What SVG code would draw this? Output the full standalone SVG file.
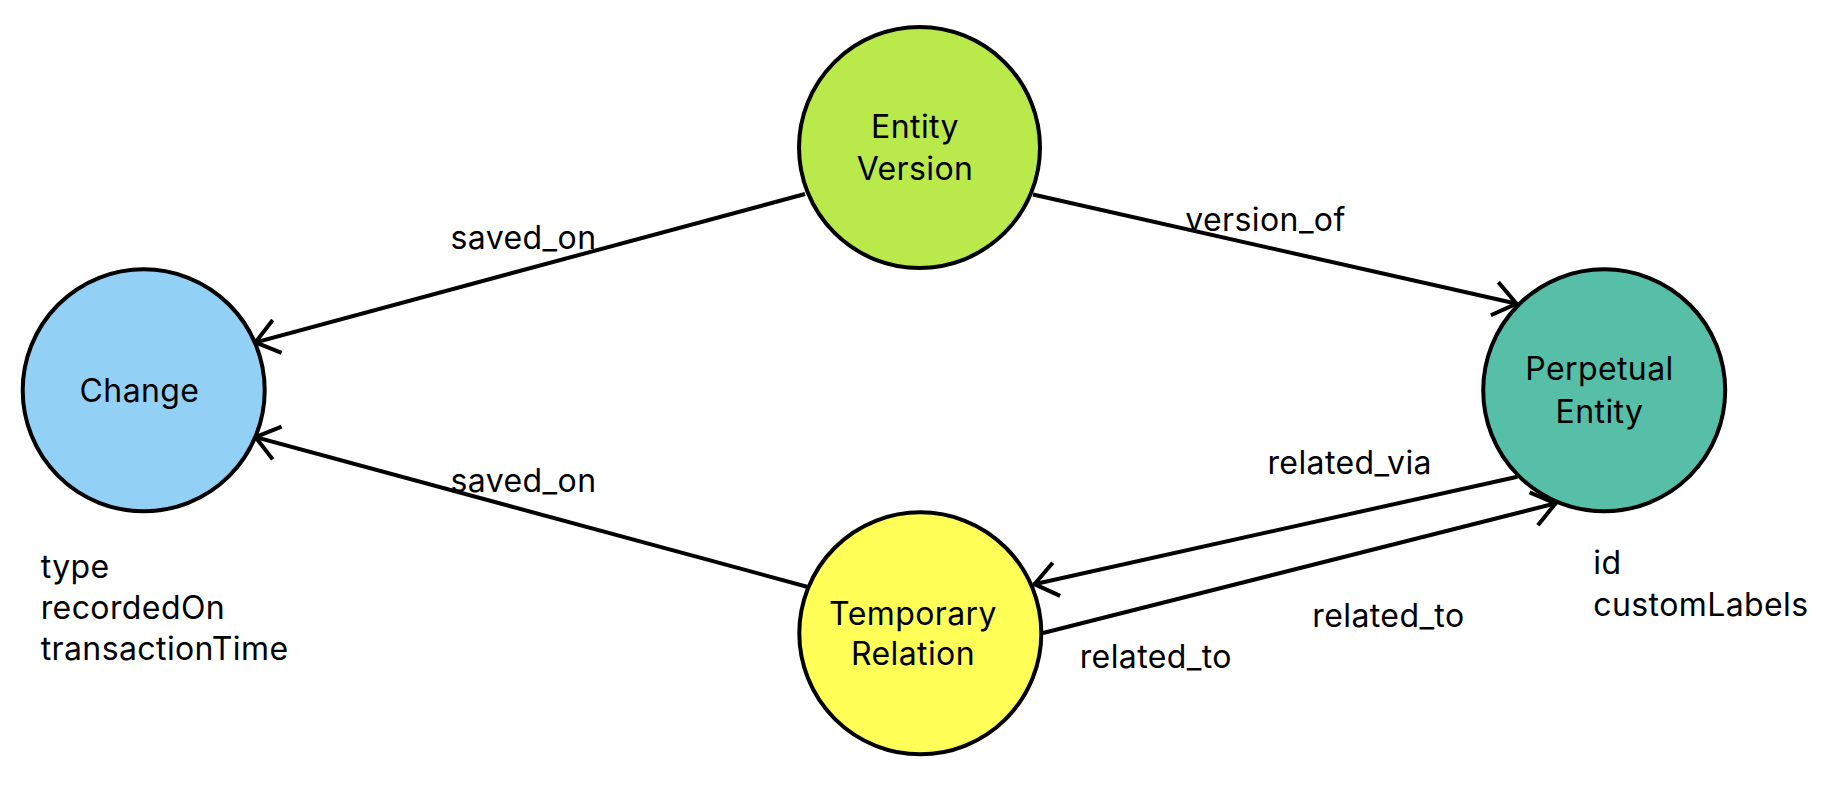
<svg xmlns="http://www.w3.org/2000/svg" width="1841" height="787" viewBox="0 0 1841 787">
<style>
  .node { stroke: #000; stroke-width: 4; }
  .edge { stroke: #000; stroke-width: 4; fill: none; marker-end: url(#arrow); }
  text { font-family: Inter, "Noto Sans", "Liberation Sans", sans-serif; font-size: 32px; letter-spacing: 0.4px; fill: #000; }
  .mid { text-anchor: middle; }
</style>
<defs>
  <marker id="arrow" markerUnits="userSpaceOnUse" markerWidth="40" markerHeight="40" viewBox="-30 -20 34 40" refX="0" refY="0" orient="auto" overflow="visible">
    <path d="M -24 -17 L -1.5 0 L -24 17" fill="none" stroke="#000" stroke-width="4" stroke-linejoin="miter"/>
  </marker>
</defs>
<rect width="1841" height="787" fill="#fff"/>
<g id="connectors">
  <g id="e-ev-change">
    <line class="edge" x1="805" y1="194" x2="254" y2="342.7"/>
    <text class="mid" x="523.5" y="249.3">saved_on</text>
  </g>
  <g id="e-tr-change">
    <line class="edge" x1="807" y1="586.7" x2="254" y2="436.7"/>
    <text class="mid" x="523.5" y="491.7">saved_on</text>
  </g>
  <g id="e-ev-pe">
    <line class="edge" x1="1033" y1="194.5" x2="1518" y2="304"/>
    <text class="mid" x="1265.5" y="230.7">version_of</text>
  </g>
  <g id="e-pe-tr">
    <line class="edge" x1="1517.5" y1="476.7" x2="1033" y2="584.5"/>
    <text class="mid" x="1349.7" y="474">related_via</text>
  </g>
  <g id="e-tr-pe">
    <line class="edge" x1="1043" y1="633" x2="1557" y2="503"/>
    <text class="mid" x="1388.4" y="626.7">related_to</text>
    <text class="mid" x="1155.8" y="668.3">related_to</text>
  </g>
</g>
<g id="node-entity-version">
  <circle class="node" cx="919.5" cy="147.5" r="120.5" fill="#BAE94B"/>
  <text class="mid" x="915" y="138.3">Entity</text>
  <text class="mid" x="915" y="180">Version</text>
</g>
<g id="node-change">
  <circle class="node" cx="143.7" cy="390.3" r="121" fill="#93D0F5"/>
  <text class="mid" x="139.5" y="401.7">Change</text>
  <text x="40.7" y="578.3">type</text>
  <text x="40.7" y="619.3">recordedOn</text>
  <text x="40.7" y="660.3">transactionTime</text>
</g>
<g id="node-perpetual-entity">
  <circle class="node" cx="1604.2" cy="390.3" r="121" fill="#57BEA7"/>
  <text class="mid" x="1599.5" y="380">Perpetual</text>
  <text class="mid" x="1599.5" y="422.7">Entity</text>
  <text x="1593.3" y="574">id</text>
  <text x="1593.3" y="616">customLabels</text>
</g>
<g id="node-temporary-relation">
  <circle class="node" cx="920.3" cy="633.3" r="121" fill="#FFFF57"/>
  <text class="mid" x="913" y="625">Temporary</text>
  <text class="mid" x="913" y="665">Relation</text>
</g>
</svg>
